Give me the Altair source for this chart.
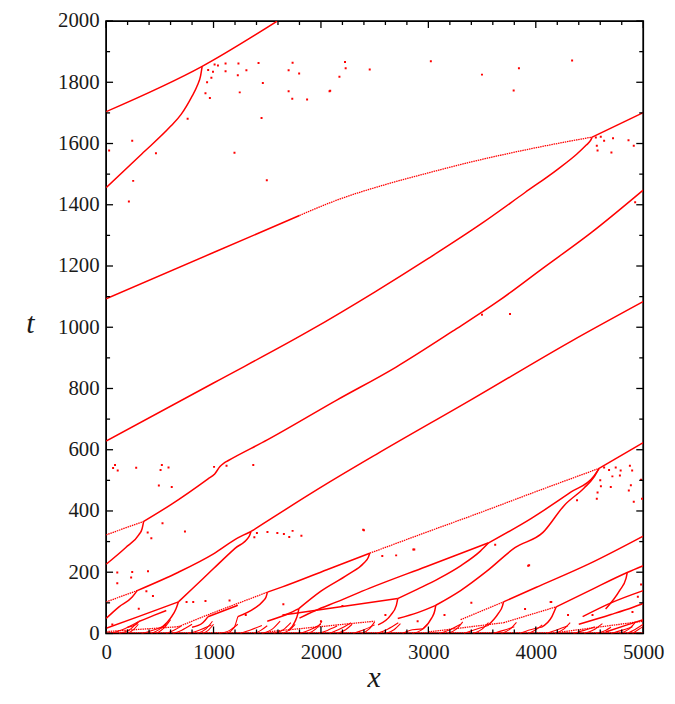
import altair as alt
import pandas as pd

# ---------------- data (x, t) ----------------
X_LABELS = [0, 1000, 2000, 3000, 4000, 5000]
X_MINOR = [200, 400, 600, 800, 1200, 1400, 1600, 1800, 2200, 2400, 2600, 2800,
           3200, 3400, 3600, 3800, 4200, 4400, 4600, 4800]
Y_LABELS = [0, 200, 400, 600, 800, 1000, 1200, 1400, 1600, 1800, 2000]
Y_MINOR = [100, 300, 500, 700, 900, 1100, 1300, 1500, 1700, 1900]

# solid trajectories
SOLID = [
    [(0, 1704), (894, 1852), (1594, 2000)],
    [(0, 1456), (332, 1566), (600, 1656), (700, 1696), (793, 1750), (850, 1790), (880, 1822), (894, 1852)],
    [(0, 1093), (1000, 1244), (1800, 1365)],
    [(4525, 1621), (5000, 1701)],
    [(0, 628), (1000, 818), (1886, 987), (2500, 1115), (3000, 1225), (3500, 1340), (3900, 1440),
     (4200, 1515), (4380, 1565), (4470, 1595), (4510, 1610), (4525, 1621)],
    [(350, 366), (600, 420), (949, 505), (1011, 521), (1060, 545), (1100, 557), (1134, 564),
     (1500, 632), (2147, 762), (2700, 870), (3226, 987), (3650, 1085), (4055, 1190), (4516, 1309), (5000, 1448)],
    [(0, 226), (181, 280), (304, 322), (335, 342), (350, 366)],
    [(1349, 333), (2055, 489), (2516, 585), (3392, 762), (4332, 955), (5000, 1084)],
    [(0, 49), (120, 87), (243, 119), (289, 140)],
    [(289, 140), (673, 200), (1000, 260), (1226, 312), (1349, 333)],
    [(0, 17), (300, 55), (673, 103)],
    [(520, 20), (600, 50), (650, 80), (673, 103)],
    [(673, 103), (800, 145), (1000, 212), (1200, 278), (1333, 318), (1349, 333)],
    [(1226, 55), (1380, 82), (1460, 105), (1490, 120), (1502, 135)],
    [(1502, 135), (1641, 152), (2055, 208), (2454, 262)],
    [(1794, 81), (2000, 138), (2250, 192), (2400, 230), (2440, 248), (2454, 262)],
    [(1800, 50), (1950, 75), (2147, 103), (2454, 148), (2977, 218), (3561, 296)],
    [(2715, 114), (2900, 145), (3100, 180), (3300, 221), (3484, 269), (3561, 296)],
    [(1641, 60), (2200, 88), (2715, 114)],
    [(2532, 28), (2650, 60), (2700, 90), (2715, 114)],
    [(3561, 296), (3959, 376), (4329, 462), (4544, 515), (4589, 539)],
    [(3069, 92), (3300, 140), (3550, 205), (3806, 280), (4067, 330), (4267, 419), (4450, 475),
     (4540, 510), (4589, 539)],
    [(4589, 539), (5000, 623)],
    [(3550, 25), (3650, 65), (3690, 90), (3699, 103)],
    [(3699, 103), (4000, 150), (4500, 228), (5000, 318)],
    [(4050, 20), (4150, 55), (4190, 87)],
    [(4190, 87), (4500, 140), (4851, 199), (5000, 221)],
    [(4650, 80), (4780, 140), (4840, 180), (4851, 199)],
    [(4400, 30), (4700, 62), (4900, 85), (5000, 98)],
    [(4436, 55), (4700, 100), (5000, 140)],
    [(4650, 5), (4850, 28), (5000, 45)],
    [(2715, 49), (2900, 68), (3069, 92)],
    [(2950, 15), (3030, 50), (3060, 75), (3069, 92)],
    [(1500, 40), (1700, 65), (1794, 81)],
    [(1700, 10), (1760, 40), (1785, 65), (1794, 81)],
    [(200, 20), (280, 30), (304, 39)],
    [(304, 39), (450, 60), (560, 75)],
    [(800, 20), (900, 35), (949, 55)],
    [(949, 55), (1100, 75), (1226, 92)],
]

# thin, dotted-looking (fast) trajectories
DOTTED = [
    [(1800, 1365), (2147, 1415), (2600, 1466), (2977, 1502), (3400, 1540), (3806, 1572), (4200, 1600), (4525, 1621)],
    [(0, 322), (350, 366)],
    [(0, 103), (289, 140)],
    [(673, 22), (1000, 68), (1300, 108), (1502, 135)],
    [(2454, 262), (2915, 322), (3500, 397), (4000, 463), (4589, 539)],
    [(3300, 45), (3699, 103)],
    [(3700, 35), (4190, 87)],
    [(0, 6), (673, 22)],
    [(1500, 5), (2500, 40)],
    [(3000, 5), (3700, 35)],
    [(4200, 3), (5000, 40)],
    [(0, 3), (5000, 3)],
]

# short trajectories in the crowded band near t = 0
SHORT = [
    [(40, 0), (150, 12), (300, 38)], [(120, 0), (230, 15), (290, 35)], [(200, 0), (260, 14), (300, 30)],
    [(330, 0), (450, 12), (560, 28)], [(420, 0), (500, 14), (560, 32)], [(470, 0), (540, 18), (600, 45)],
    [(560, 0), (640, 12), (700, 24)], [(620, 0), (700, 10), (800, 30)], [(760, 0), (860, 10), (980, 28)],
    [(850, 0), (930, 15), (990, 40)], [(900, 0), (950, 10), (1000, 30)], [(1050, 0), (1150, 10), (1226, 30)],
    [(1120, 0), (1190, 18), (1226, 55)], [(1250, 0), (1350, 12), (1450, 26)], [(1380, 0), (1440, 10), (1500, 25)],
    [(1450, 0), (1550, 15), (1620, 40)], [(1560, 0), (1650, 12), (1720, 35)], [(1640, 0), (1700, 10), (1760, 30)],
    [(1800, 0), (1900, 12), (2000, 30)], [(1880, 0), (1950, 14), (2010, 40)], [(1980, 0), (2060, 10), (2150, 24)],
    [(2080, 0), (2180, 15), (2280, 35)], [(2150, 0), (2230, 12), (2290, 30)], [(2300, 0), (2400, 12), (2500, 28)],
    [(2380, 0), (2450, 15), (2500, 38)], [(2520, 0), (2620, 14), (2720, 35)], [(2600, 0), (2680, 12), (2740, 32)],
    [(2760, 0), (2850, 12), (2950, 15)], [(2850, 0), (2930, 10), (2990, 28)], [(3100, 0), (3200, 12), (3300, 30)],
    [(3180, 0), (3260, 14), (3320, 38)], [(3330, 0), (3430, 12), (3550, 25)], [(3420, 0), (3500, 14), (3560, 35)],
    [(3600, 0), (3700, 10), (3800, 22)], [(3680, 0), (3760, 14), (3820, 36)], [(3850, 0), (3950, 12), (4050, 20)],
    [(3930, 0), (4000, 12), (4060, 28)], [(4100, 0), (4200, 12), (4300, 25)], [(4180, 0), (4260, 14), (4320, 35)],
    [(4350, 0), (4450, 10), (4550, 22)], [(4450, 0), (4550, 14), (4620, 32)], [(4560, 0), (4650, 10), (4700, 20)],
    [(4700, 0), (4800, 10), (4900, 22)], [(4780, 0), (4870, 15), (4930, 38)], [(4850, 0), (4920, 12), (5000, 30)],
    [(4900, 0), (4960, 14), (5000, 22)],
]

# isolated points
DOTS_X = [243, 28, 252, 212, 464, 1195, 1496, 759, 1447, 925, 966, 995, 1041, 1112, 1112, 1232, 1226, 1244,
          1306, 1419, 1459, 1699, 1736, 1797, 1699, 1733, 1871, 2080, 950, 980, 1010, 940,
          2086, 2172, 2224, 2230, 2454, 3023, 3499, 3794, 3843, 4338,
          4559, 4605, 4568, 4575, 4636, 4704, 4719, 4863, 4912, 4925, 3499, 3760,
          65, 83, 108, 280, 519, 507, 581, 491, 611, 1005, 1121, 1370,
          525, 387, 421, 734, 1502, 1594, 1655, 1705, 1736, 1818, 2400, 1404, 1380,
          104, 243, 233, 390, 104, 375, 436, 304, 749, 811, 925, 1149, 58,
          4636, 4682, 4744, 4790, 4876, 4897, 4713, 4783, 4698, 4606, 4885, 4866, 4980, 4989, 4912, 4568,
          4575, 4384, 4600, 2393, 2860, 2700, 2869, 2571, 3622, 3929, 3938, 4144, 4138, 4528,
          2000, 2200, 2600, 2900, 3150, 3400, 3900, 4300, 1300, 1650, 4950, 4980, 4900]
DOTS_T = [1609, 1577, 1478, 1411, 1568, 1570, 1480, 1681, 1683, 1764, 1749, 1834, 1855, 1861, 1836, 1861, 1823, 1767,
          1839, 1863, 1798, 1839, 1864, 1829, 1771, 1746, 1744, 1771, 1840, 1815, 1858, 1800,
          1772, 1818, 1866, 1846, 1842, 1869, 1825, 1773, 1846, 1871,
          1620, 1622, 1593, 1577, 1609, 1571, 1617, 1611, 1593, 1408, 1041, 1043,
          540, 550, 532, 541, 550, 534, 542, 483, 478, 544, 548, 550,
          360, 330, 311, 333, 331, 328, 325, 315, 335, 319, 337, 328, 314,
          199, 201, 183, 203, 164, 138, 122, 81, 103, 103, 106, 108, 29,
          542, 534, 542, 532, 548, 532, 513, 516, 478, 481, 484, 467, 502, 440, 430, 440,
          460, 435, 500, 339, 274, 255, 274, 253, 290, 221, 223, 103, 103, 60,
          40, 90, 60, 40, 60, 100, 80, 60, 60, 95, 120, 160, 70]

RED = "#ff0000"
W, H = 542, 618
SERIF = "'Liberation Serif', 'Times New Roman', 'DejaVu Serif', serif"


def tracks_frame(tracks, prefix):
    rows = []
    for i, tr in enumerate(tracks):
        for k, (x, t) in enumerate(tr):
            rows.append({"track": f"{prefix}{i}", "k": k, "x": x, "t": t})
    return pd.DataFrame(rows)


xscale = alt.Scale(domain=[0, 5000], nice=False, zero=False)
yscale = alt.Scale(domain=[0, 2000], nice=False, zero=False)

x_axis = alt.Axis(values=X_LABELS, format="d", ticks=False, domain=False, grid=False, title="x",
                  labelFont=SERIF, labelFontSize=21, labelColor="#1a1a1a", labelPadding=8,
                  labelFlush=False, labelOverlap=False,
                  titleFont=SERIF, titleFontStyle="italic", titleFontWeight="normal", titleFontSize=30,
                  titleColor="#1a1a1a", titleX=270, titleY=54, titleBaseline="alphabetic", titleAlign="center")
y_axis = alt.Axis(values=Y_LABELS, format="d", ticks=False, domain=False, grid=False, title="t",
                  labelFont=SERIF, labelFontSize=21, labelColor="#1a1a1a", labelPadding=7,
                  labelFlush=False, labelOverlap=False,
                  titleFont=SERIF, titleFontStyle="italic", titleFontWeight="normal", titleFontSize=30,
                  titleColor="#1a1a1a", titleAngle=0, titleX=-77, titleY=305,
                  titleBaseline="middle", titleAlign="center")

X = lambda f: alt.X(f, scale=xscale, axis=x_axis)
Y = lambda f: alt.Y(f, scale=yscale, axis=y_axis)

solid = alt.Chart(tracks_frame(SOLID, "s")).mark_line(
    color=RED, strokeWidth=1.5, clip=True, interpolate="monotone").encode(
    x=X("x:Q"), y=Y("t:Q"), detail="track:N", order="k:Q")

dotted = alt.Chart(tracks_frame(DOTTED, "d")).mark_line(
    color=RED, strokeWidth=1.3, strokeDash=[1.5, 0.8], clip=True, interpolate="monotone").encode(
    x=X("x:Q"), y=Y("t:Q"), detail="track:N", order="k:Q")

short = alt.Chart(tracks_frame(SHORT, "b")).mark_line(
    color=RED, strokeWidth=1.1, clip=True, interpolate="monotone").encode(
    x=X("x:Q"), y=Y("t:Q"), detail="track:N", order="k:Q")

dots = alt.Chart(pd.DataFrame({"x": DOTS_X, "t": DOTS_T})).mark_square(
    color=RED, size=4, opacity=1, clip=True).encode(x=X("x:Q"), y=Y("t:Q"))

# inward ticks on all four sides
xmaj = pd.DataFrame({"x": X_LABELS})
xmin = pd.DataFrame({"x": X_MINOR})
ymaj = pd.DataFrame({"t": Y_LABELS})
ymin = pd.DataFrame({"t": Y_MINOR})


def xticks(df, length):
    b = alt.Chart(df).mark_rule(color="black", strokeWidth=1.3).encode(
        x=X("x:Q"), y=alt.value(H), y2=alt.value(H - length))
    t = alt.Chart(df).mark_rule(color="black", strokeWidth=1.3).encode(
        x=X("x:Q"), y=alt.value(0), y2=alt.value(length))
    return [b, t]


def yticks(df, length):
    l = alt.Chart(df).mark_rule(color="black", strokeWidth=1.3).encode(
        y=Y("t:Q"), x=alt.value(0), x2=alt.value(length))
    r = alt.Chart(df).mark_rule(color="black", strokeWidth=1.3).encode(
        y=Y("t:Q"), x=alt.value(W), x2=alt.value(W - length))
    return [l, r]


layers = [solid, dotted, short, dots] + xticks(xmaj, 7) + xticks(xmin, 4) + yticks(ymaj, 7) + yticks(ymin, 4)

chart = alt.layer(*layers).properties(
    width=W, height=H,
    autosize=alt.AutoSizeParams(type="none"),
    padding={"left": 99, "top": 10, "right": 24, "bottom": 64},
).configure_view(stroke="black", strokeWidth=1.8)

chart.save("out.html", embed_options={"renderer": "svg", "actions": False})
